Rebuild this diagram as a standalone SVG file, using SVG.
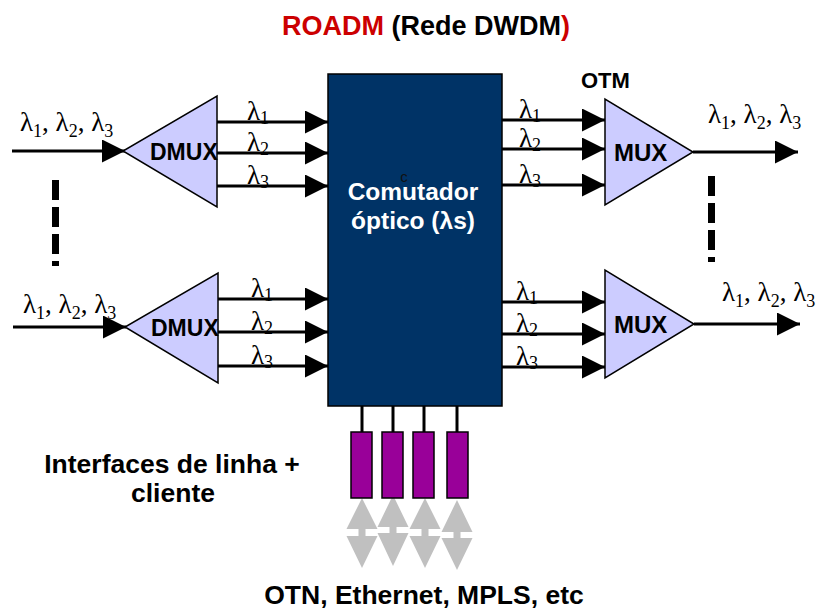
<svg xmlns="http://www.w3.org/2000/svg" width="821" height="613" viewBox="0 0 821 613">
<defs>
<style>
.bold{font-family:"Liberation Sans",Arial,sans-serif;font-weight:bold;}
.tri{fill:#ccccff;stroke:#000;stroke-width:1.5;}
.wire{stroke:#000;stroke-width:3;fill:none;}
.wa{stroke:#000;stroke-width:3;fill:none;marker-end:url(#ah);}
.lam{font-family:"Liberation Serif","Times New Roman",serif;font-size:27px;fill:#000;}
.sub{font-size:18px;}
.iface{fill:#990099;stroke:#000;stroke-width:1.5;}
.garrow{fill:#c0c0c0;}
.dash{stroke:#000;stroke-width:7;stroke-dasharray:20 7;}
</style>
<marker id="ah" markerUnits="userSpaceOnUse" markerWidth="23" markerHeight="23" refX="23" refY="11.5" orient="auto">
<path d="M0,0 L23,11.5 L0,23 Z" fill="#000"/>
</marker>
</defs>
<rect width="821" height="613" fill="#fff"/>

<text class="bold" x="426" y="35" font-size="27" text-anchor="middle"><tspan fill="#cc0000">ROADM</tspan> (Rede DWDM<tspan fill="#cc0000">)</tspan></text>

<g id="connectors">
<line class="wa" x1="12" y1="151" x2="125" y2="151"/>
<line class="wa" x1="217" y1="122" x2="328" y2="122"/>
<line class="wa" x1="217" y1="153" x2="328" y2="153"/>
<line class="wa" x1="217" y1="186" x2="328" y2="186"/>
<line class="wa" x1="13" y1="327" x2="126" y2="327"/>
<line class="wa" x1="218" y1="299" x2="328" y2="299"/>
<line class="wa" x1="218" y1="332" x2="328" y2="332"/>
<line class="wa" x1="218" y1="366" x2="328" y2="366"/>
<line class="wa" x1="502" y1="120" x2="605" y2="120"/>
<line class="wa" x1="502" y1="149" x2="605" y2="149"/>
<line class="wa" x1="502" y1="185" x2="605" y2="185"/>
<line class="wa" x1="693" y1="152" x2="798" y2="152"/>
<line class="wa" x1="502" y1="302" x2="605" y2="302"/>
<line class="wa" x1="502" y1="334" x2="605" y2="334"/>
<line class="wa" x1="502" y1="367" x2="605" y2="367"/>
<line class="wa" x1="694" y1="324" x2="800" y2="324"/>
<line class="wire" x1="362" y1="406" x2="362" y2="432"/>
<line class="wire" x1="393" y1="406" x2="393" y2="432"/>
<line class="wire" x1="424" y1="406" x2="424" y2="432"/>
<line class="wire" x1="457" y1="406" x2="457" y2="432"/>
<g id="client-arrows">
<polygon class="garrow" points="362,498 377.5,529 365.5,529 365.5,536 377.5,536 362,568 346.5,536 358.5,536 358.5,529 346.5,529"/>
<polygon class="garrow" points="393,495 408.5,527 396.5,527 396.5,533 408.5,533 393,566 377.5,533 389.5,533 389.5,527 377.5,527"/>
<polygon class="garrow" points="425,498 440.5,529 428.5,529 428.5,536 440.5,536 425,568 409.5,536 421.5,536 421.5,529 409.5,529"/>
<polygon class="garrow" points="457,500 472.5,532 460.5,532 460.5,538 472.5,538 457,570 441.5,538 453.5,538 453.5,532 441.5,532"/>
</g>
</g>

<g id="dmux-top">
<polygon class="tri" points="217,96 217,207 123,151"/>
<text class="bold" x="150" y="160" font-size="23">DMUX</text>
</g>
<g id="dmux-bottom">
<polygon class="tri" points="218,273 218,383 125,327"/>
<text class="bold" x="151" y="336" font-size="23">DMUX</text>
</g>
<g id="mux-top">
<polygon class="tri" points="605,99 605,205 693,152"/>
<text class="bold" x="614" y="161" font-size="24">MUX</text>
</g>
<g id="mux-bottom">
<polygon class="tri" points="605,270 605,378 694,324"/>
<text class="bold" x="614" y="333" font-size="24">MUX</text>
</g>
<g id="switch">
<rect x="328" y="74" width="174" height="332" fill="#003366" stroke="#000" stroke-width="1.5"/>
<text x="404" y="182" font-family="Liberation Sans,Arial,sans-serif" font-size="15" fill="#111" text-anchor="middle">c</text>
<text class="bold" x="413" y="200" font-size="24.5" fill="#fff" text-anchor="middle">Comutador</text>
<text class="bold" x="413" y="229" font-size="24.5" fill="#fff" text-anchor="middle">óptico (λs)</text>
</g>
<g id="if1"><rect class="iface" x="351" y="432" width="21" height="66"/></g>
<g id="if2"><rect class="iface" x="382" y="432" width="21" height="66"/></g>
<g id="if3"><rect class="iface" x="413" y="432" width="21" height="66"/></g>
<g id="if4"><rect class="iface" x="447" y="432" width="21" height="66"/></g>

<g id="dots">
<line class="dash" x1="55.5" y1="180" x2="55.5" y2="266"/>
<line class="dash" x1="711.5" y1="176" x2="711.5" y2="262"/>
</g>

<g id="labels">
<text class="lam" x="20" y="131">λ<tspan class="sub" dy="6">1</tspan><tspan dy="-6">, λ</tspan><tspan class="sub" dy="6">2</tspan><tspan dy="-6">, λ</tspan><tspan class="sub" dy="6">3</tspan></text>
<text class="lam" x="23" y="313">λ<tspan class="sub" dy="6">1</tspan><tspan dy="-6">, λ</tspan><tspan class="sub" dy="6">2</tspan><tspan dy="-6">, λ</tspan><tspan class="sub" dy="6">3</tspan></text>
<text class="lam" x="708" y="123">λ<tspan class="sub" dy="6">1</tspan><tspan dy="-6">, λ</tspan><tspan class="sub" dy="6">2</tspan><tspan dy="-6">, λ</tspan><tspan class="sub" dy="6">3</tspan></text>
<text class="lam" x="722" y="301">λ<tspan class="sub" dy="6">1</tspan><tspan dy="-6">, λ</tspan><tspan class="sub" dy="6">2</tspan><tspan dy="-6">, λ</tspan><tspan class="sub" dy="6">3</tspan></text>

<text class="lam" x="247" y="120">λ<tspan class="sub" dy="4">1</tspan></text>
<text class="lam" x="247" y="151">λ<tspan class="sub" dy="4">2</tspan></text>
<text class="lam" x="247" y="184">λ<tspan class="sub" dy="4">3</tspan></text>
<text class="lam" x="251" y="297">λ<tspan class="sub" dy="4">1</tspan></text>
<text class="lam" x="251" y="330">λ<tspan class="sub" dy="4">2</tspan></text>
<text class="lam" x="251" y="364">λ<tspan class="sub" dy="4">3</tspan></text>
<text class="lam" x="519" y="118">λ<tspan class="sub" dy="4">1</tspan></text>
<text class="lam" x="519" y="147">λ<tspan class="sub" dy="4">2</tspan></text>
<text class="lam" x="519" y="183">λ<tspan class="sub" dy="4">3</tspan></text>
<text class="lam" x="516" y="300">λ<tspan class="sub" dy="4">1</tspan></text>
<text class="lam" x="516" y="332">λ<tspan class="sub" dy="4">2</tspan></text>
<text class="lam" x="516" y="365">λ<tspan class="sub" dy="4">3</tspan></text>

<text class="bold" x="581" y="88" font-size="22">OTM</text>
<text class="bold" x="172" y="473" font-size="26.5" text-anchor="middle">Interfaces de linha +</text>
<text class="bold" x="173" y="502" font-size="26.5" text-anchor="middle">cliente</text>
<text class="bold" x="424" y="604" font-size="26.5" text-anchor="middle">OTN, Ethernet, MPLS, etc</text>
</g>
</svg>
